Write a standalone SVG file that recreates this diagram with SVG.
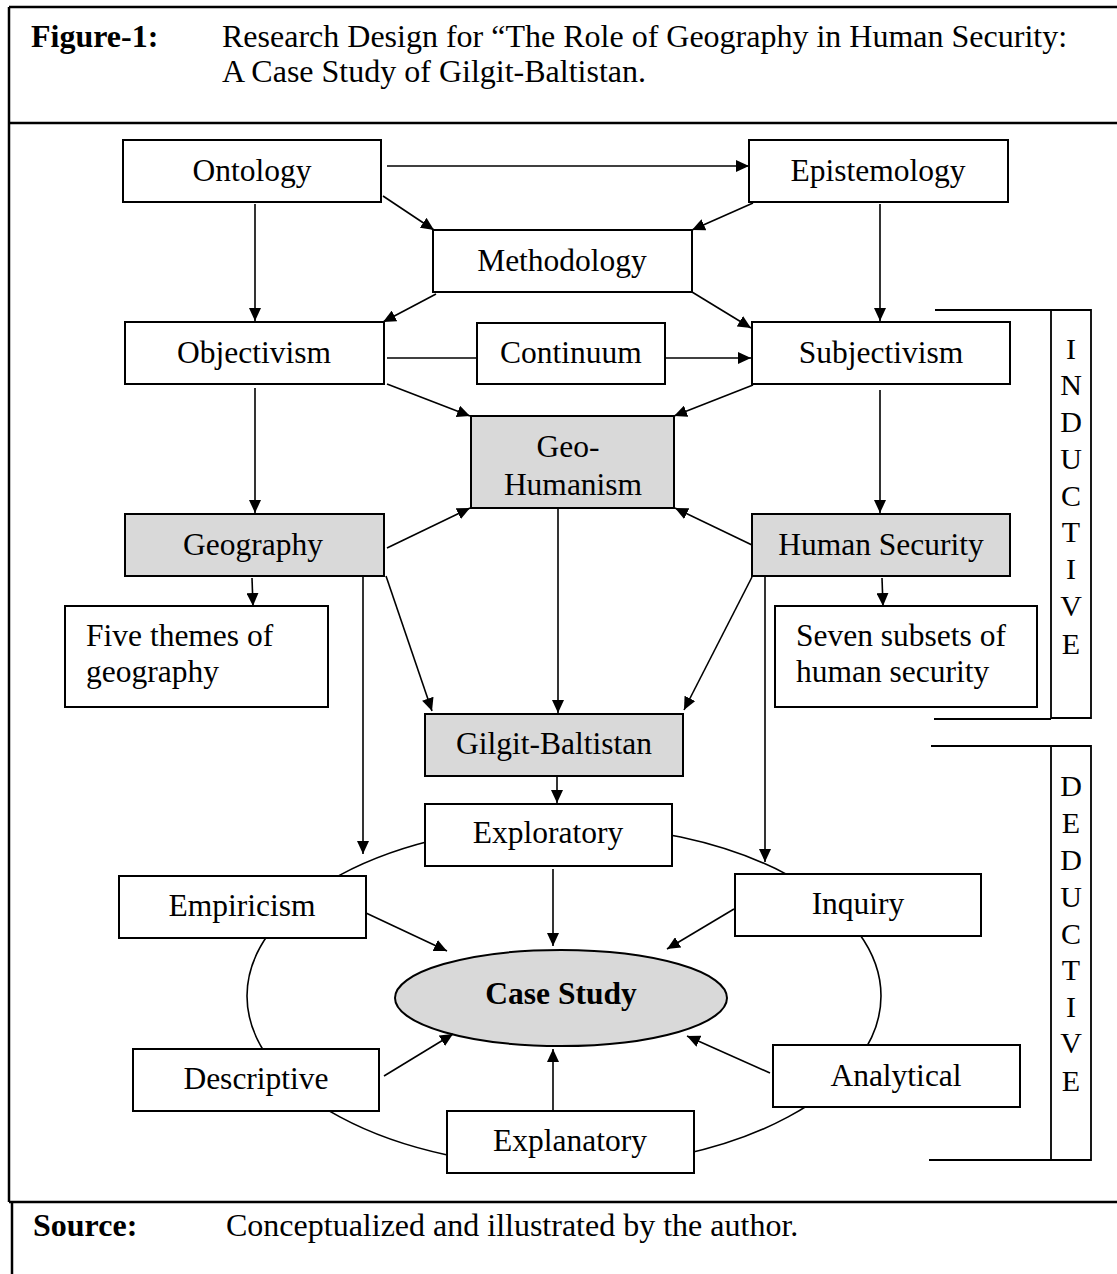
<svg xmlns="http://www.w3.org/2000/svg" width="1117" height="1274" viewBox="0 0 1117 1274">
<style>
text{font-family:"Liberation Serif","Times New Roman",serif;font-size:31.5px;fill:#000}
.c{text-anchor:middle}
.b{font-weight:bold}
.t{font-size:32px}
.l{font-size:30px;text-anchor:middle}
.box{fill:#fff;stroke:#000;stroke-width:2}
.g{fill:#d9d9d9;stroke:#000;stroke-width:2}
.fr{stroke:#000;stroke-width:2.5;fill:none}
.br{stroke:#000;stroke-width:1.8;fill:none}
.cn line,.cn ellipse{stroke:#000;stroke-width:1.6;fill:none}
.a{marker-end:url(#ah)}
</style>
<defs>
<marker id="ah" markerUnits="userSpaceOnUse" markerWidth="14" markerHeight="12" refX="13" refY="6" orient="auto">
<path d="M0,0 L13,6 L0,12 z" fill="#000"/>
</marker>
</defs>
<rect width="1117" height="1274" fill="#fff"/>
<g id="frame">
<line class="fr" x1="9" y1="7" x2="1117" y2="7"/>
<line class="fr" x1="9" y1="7" x2="9" y2="1202"/>
<line class="fr" x1="9" y1="123" x2="1117" y2="123"/>
<line class="fr" x1="9" y1="1202" x2="1117" y2="1202"/>
<line class="fr" x1="12" y1="1202" x2="12" y2="1274"/>
</g>
<g id="title">
<text class="t b" x="31" y="47">Figure-1:</text>
<text class="t" x="222" y="47">Research Design for “The Role of Geography in Human Security:</text>
<text class="t" x="222" y="82">A Case Study of Gilgit-Baltistan.</text>
</g>
<g id="source">
<text class="t b" x="33" y="1236">Source:</text>
<text class="t" x="226" y="1236">Conceptualized and illustrated by the author.</text>
</g>
<g class="cn" id="connectors">
<ellipse cx="564" cy="996" rx="317" ry="171"/>
<line class="a" x1="387" y1="166" x2="749" y2="166"/>
<line class="a" x1="383" y1="196" x2="434" y2="230"/>
<line class="a" x1="753" y1="203" x2="692" y2="230"/>
<line class="a" x1="255" y1="204" x2="255" y2="321"/>
<line class="a" x1="436" y1="294" x2="383" y2="322"/>
<line class="a" x1="880" y1="204" x2="880" y2="321"/>
<line class="a" x1="692" y1="292" x2="751" y2="328"/>
<line x1="387" y1="358" x2="477" y2="358"/>
<line class="a" x1="666" y1="358" x2="751" y2="358"/>
<line class="a" x1="387" y1="384" x2="470" y2="416"/>
<line class="a" x1="753" y1="385" x2="674" y2="416"/>
<line class="a" x1="255" y1="388" x2="255" y2="513"/>
<line class="a" x1="880" y1="390" x2="880" y2="513"/>
<line class="a" x1="387" y1="548" x2="470" y2="508"/>
<line class="a" x1="752" y1="545" x2="675" y2="508"/>
<line class="a" x1="252" y1="578" x2="253" y2="606"/>
<line class="a" x1="882" y1="578" x2="883" y2="606"/>
<line class="a" x1="386" y1="576" x2="432" y2="711"/>
<line class="a" x1="752" y1="577" x2="684" y2="710"/>
<line class="a" x1="558" y1="508" x2="558" y2="713"/>
<line class="a" x1="363" y1="576" x2="363" y2="854"/>
<line class="a" x1="765" y1="576" x2="765" y2="862"/>
<line class="a" x1="557" y1="776" x2="557" y2="803"/>
</g>
<g id="ontology"><rect class="box" x="123" y="140" width="258" height="62"/><text class="c" x="252" y="181">Ontology</text></g>
<g id="epistemology"><rect class="box" x="749" y="140" width="259" height="62"/><text class="c" x="878" y="181">Epistemology</text></g>
<g id="methodology"><rect class="box" x="433" y="230" width="259" height="62"/><text class="c" x="562" y="271">Methodology</text></g>
<g id="objectivism"><rect class="box" x="125" y="322" width="259" height="62"/><text class="c" x="254" y="363">Objectivism</text></g>
<g id="continuum"><rect class="box" x="477" y="323" width="188" height="61"/><text class="c" x="571" y="363">Continuum</text></g>
<g id="subjectivism"><rect class="box" x="752" y="322" width="258" height="62"/><text class="c" x="881" y="363">Subjectivism</text></g>
<g id="geohumanism"><rect class="g" x="471" y="416" width="203" height="92"/><text class="c" x="568" y="457">Geo-</text><text class="c" x="573" y="495">Humanism</text></g>
<g id="geography"><rect class="g" x="125" y="514" width="259" height="62"/><text class="c" x="253" y="555">Geography</text></g>
<g id="humansecurity"><rect class="g" x="752" y="514" width="258" height="62"/><text class="c" x="881" y="555">Human Security</text></g>
<g id="fivethemes"><rect class="box" x="65" y="606" width="263" height="101"/><text x="86" y="646">Five themes of</text><text x="86" y="682">geography</text></g>
<g id="sevensubsets"><rect class="box" x="775" y="606" width="262" height="101"/><text x="796" y="646">Seven subsets of</text><text x="796" y="682">human security</text></g>
<g id="inductive">
<polyline class="br" points="935,310 1091,310 1091,718 1051,718 1051,310"/>
<line class="br" x1="934" y1="719" x2="1051" y2="719"/>
<text class="l" x="1071" y="359">I</text><text class="l" x="1071" y="395">N</text><text class="l" x="1071" y="432">D</text><text class="l" x="1071" y="469">U</text><text class="l" x="1071" y="506">C</text><text class="l" x="1071" y="542">T</text><text class="l" x="1071" y="579">I</text><text class="l" x="1071" y="616">V</text><text class="l" x="1071" y="654">E</text>
</g>
<g id="deductive">
<polyline class="br" points="931,746 1091,746 1091,1160 1051,1160 1051,746"/>
<line class="br" x1="929" y1="1160" x2="1051" y2="1160"/>
<text class="l" x="1071" y="796">D</text><text class="l" x="1071" y="833">E</text><text class="l" x="1071" y="870">D</text><text class="l" x="1071" y="907">U</text><text class="l" x="1071" y="944">C</text><text class="l" x="1071" y="980">T</text><text class="l" x="1071" y="1017">I</text><text class="l" x="1071" y="1053">V</text><text class="l" x="1071" y="1091">E</text>
</g>
<g id="gilgit"><rect class="g" x="425" y="714" width="258" height="62"/><text class="c" x="554" y="754">Gilgit-Baltistan</text></g>
<g id="exploratory"><rect class="box" x="425" y="804" width="247" height="62"/><text class="c" x="548" y="843">Exploratory</text></g>
<g id="empiricism"><rect class="box" x="119" y="876" width="247" height="62"/><text class="c" x="242" y="916">Empiricism</text></g>
<g id="inquiry"><rect class="box" x="735" y="874" width="246" height="62"/><text class="c" x="858" y="914">Inquiry</text></g>
<g id="casestudy"><ellipse cx="561" cy="998" rx="166" ry="48" fill="#d9d9d9" stroke="#000" stroke-width="2"/><text class="c b" x="561" y="1004">Case Study</text></g>
<g id="descriptive"><rect class="box" x="133" y="1049" width="246" height="62"/><text class="c" x="256" y="1089">Descriptive</text></g>
<g id="analytical"><rect class="box" x="773" y="1045" width="247" height="62"/><text class="c" x="896" y="1086">Analytical</text></g>
<g id="explanatory"><rect class="box" x="447" y="1111" width="247" height="62"/><text class="c" x="570" y="1151">Explanatory</text></g>
<g class="cn" id="connectors2">
<line class="a" x1="553" y1="869" x2="553" y2="946"/>
<line class="a" x1="366" y1="913" x2="447" y2="951"/>
<line class="a" x1="734" y1="909" x2="667" y2="949"/>
<line class="a" x1="384" y1="1076" x2="453" y2="1034"/>
<line class="a" x1="770" y1="1073" x2="687" y2="1036"/>
<line class="a" x1="553" y1="1111" x2="553" y2="1049"/>
</g>
</svg>
